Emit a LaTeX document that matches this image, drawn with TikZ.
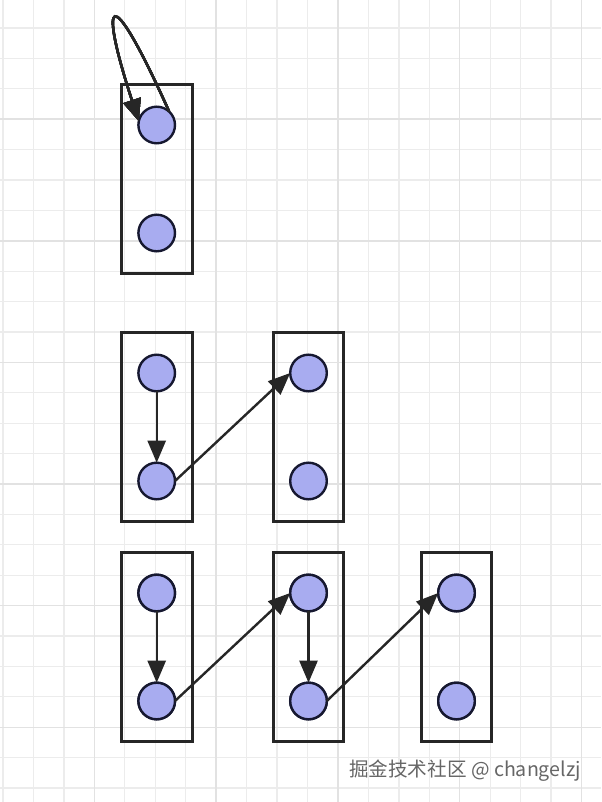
\documentclass[tikz,border=0pt]{standalone}
\usepackage{fontspec}
\newfontfamily\cjk{Noto Sans CJK SC}
\usetikzlibrary{arrows.meta}
\definecolor{dotfill}{RGB}{168,172,240}
\definecolor{dotline}{RGB}{22,24,48}
\definecolor{gridminor}{RGB}{236,236,236}
\definecolor{gridmajor}{RGB}{226,226,226}
\begin{document}
\begin{tikzpicture}[x=0.5pt,y=-0.5pt, every node/.style={inner sep=0pt, outer sep=0pt},
  slot/.style={draw=black!85, line width=1.5pt, minimum width=35.3pt, minimum height=94.3pt},
  dot/.style={circle, draw=dotline, fill=dotfill, line width=1.2pt, minimum size=18.3pt},
  link/.style={draw=black!85, line width=1.2pt, -{Triangle[length=11pt,width=9pt]}},
  wm/.style={text=black!60, font=\cjk\fontsize{9.8pt}{11pt}\selectfont}]
  \useasboundingbox[fill=white] (0,0) rectangle (601,802);
  % grid
  \foreach \i in {0,...,19}
    \draw[gridminor, line width=0.65pt] (3+30.45*\i,0) -- (3+30.45*\i,802);
  \foreach \j in {0,...,25}
    \draw[gridminor, line width=0.65pt] (0,28+30.4*\j) -- (601,28+30.4*\j);
  \foreach \i in {3,7,11,15,19}
    \draw[gridmajor, line width=0.7pt] (3+30.45*\i,0) -- (3+30.45*\i,802);
  \foreach \j in {3,7,11,15,19,23}
    \draw[gridmajor, line width=0.7pt] (0,28+30.4*\j) -- (601,28+30.4*\j);
  \newcommand{\slotpair}[3]{
    \node[slot] (#1) at (#2,#3) {};
    \node[dot] (#1t) at (#2,#3-54) {};
    \node[dot] (#1b) at (#2,#3+54) {};
  }
  \slotpair{p}{156.7}{179}
  \foreach \n/\x in {qa/156.7,qb/308.5}
    \slotpair{\n}{\x}{427}
  \foreach \n/\x in {sa/156.7,sb/308.5,sc/456.5}
    \slotpair{\n}{\x}{647}
  \draw[link] (pt.47) .. controls +(-62,-138) and +(-40,-122) .. (pt.168);
  \draw[link] (qat.south) -- (qab.north);
  \draw[link] (qab.east) -- (qbt.west);
  \draw[link] (sat.south) -- (sab.north);
  \draw[link] (sab.east) -- (sbt.west);
  \draw[link] (sbt.south) -- (sbb.north);
  \draw[link] (sbb.east) -- (sct.west);
  \node[wm] (credit) at (465,771) {掘金技术社区 @ changelzj};
\end{tikzpicture}
\end{document}
